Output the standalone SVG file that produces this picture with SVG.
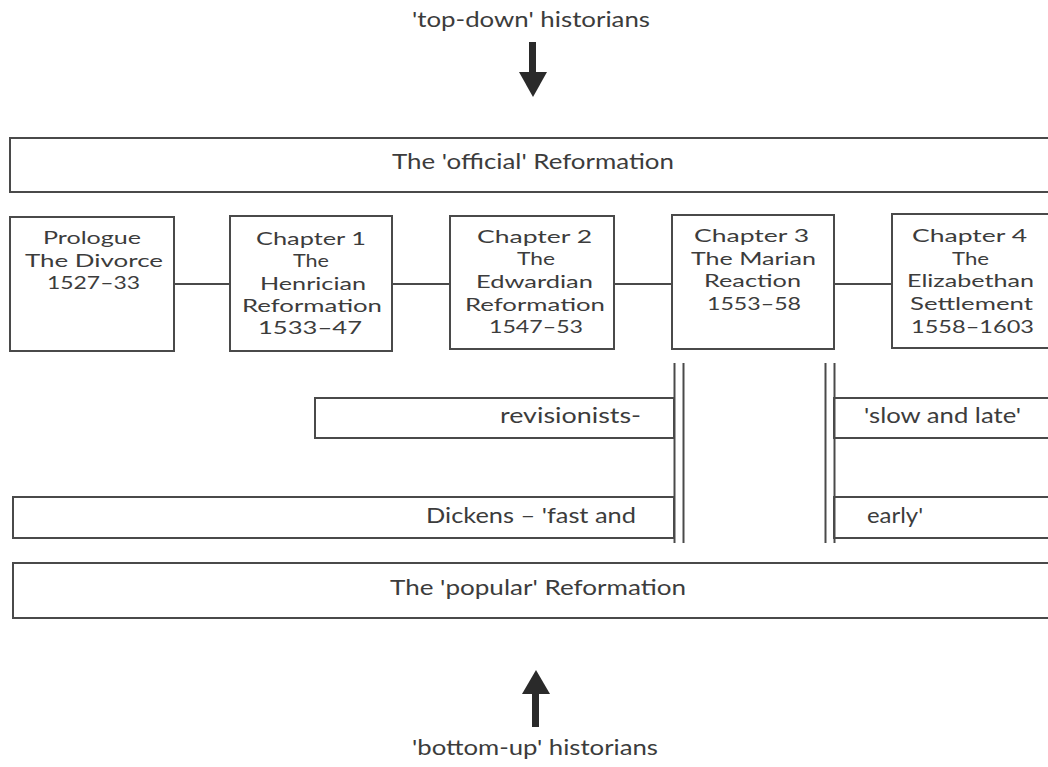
<svg xmlns="http://www.w3.org/2000/svg" width="1048" height="767" viewBox="0 0 1048 767">
<style>
  .box { fill: #ffffff; stroke: #4a4a4a; stroke-width: 2; }
  .line { stroke: #4a4a4a; stroke-width: 2; fill: none; }
  .tl { font-family: Lato, "Liberation Sans", sans-serif; font-size: 21px; fill: #3c3c3c; text-anchor: start; }
  .ch { font-family: Lato, "Liberation Sans", sans-serif; font-size: 18px; fill: #3c3c3c; text-anchor: start; }
  .arrow { fill: #2a2a2a; }
</style>
<rect x="0" y="0" width="1048" height="767" fill="#ffffff"/>

<g id="top-label">
  <text class="tl" x="412" y="27" font-size="20" textLength="238" lengthAdjust="spacingAndGlyphs">'top-down' historians</text>
  <rect class="arrow" x="529" y="42" width="7" height="31"/>
  <polygon class="arrow" points="519,72 547,72 533,97"/>
</g>

<g id="official">
  <rect class="box" x="10" y="138" width="1060" height="54"/>
  <text class="tl" x="392" y="169" textLength="282" lengthAdjust="spacingAndGlyphs">The 'official' Reformation</text>
</g>

<g id="connectors">
  <line class="line" x1="174" y1="284" x2="230" y2="284"/>
  <line class="line" x1="392" y1="284" x2="450" y2="284"/>
  <line class="line" x1="614" y1="284" x2="672" y2="284"/>
  <line class="line" x1="834" y1="284" x2="892" y2="284"/>
</g>

<g id="prologue">
  <rect class="box" x="10" y="217" width="164" height="134"/>
  <text class="ch" x="43" y="244" textLength="98" lengthAdjust="spacingAndGlyphs">Prologue</text>
  <text class="ch" x="25" y="267" textLength="138" lengthAdjust="spacingAndGlyphs">The Divorce</text>
  <text class="ch" x="47" y="289" textLength="93" lengthAdjust="spacingAndGlyphs">1527–33</text>
</g>

<g id="chapter1">
  <rect class="box" x="230" y="216" width="162" height="135"/>
  <text class="ch" x="256" y="245" textLength="110" lengthAdjust="spacingAndGlyphs">Chapter 1</text>
  <text class="ch" x="293" y="267" textLength="36" lengthAdjust="spacingAndGlyphs">The</text>
  <text class="ch" x="260" y="290" textLength="106" lengthAdjust="spacingAndGlyphs">Henrician</text>
  <text class="ch" x="242" y="312" textLength="140" lengthAdjust="spacingAndGlyphs">Reformation</text>
  <text class="ch" x="258" y="334" textLength="104" lengthAdjust="spacingAndGlyphs">1533–47</text>
</g>

<g id="chapter2">
  <rect class="box" x="450" y="216" width="164" height="133"/>
  <text class="ch" x="477" y="243" textLength="115" lengthAdjust="spacingAndGlyphs">Chapter 2</text>
  <text class="ch" x="517" y="265" textLength="38" lengthAdjust="spacingAndGlyphs">The</text>
  <text class="ch" x="476" y="288" textLength="117" lengthAdjust="spacingAndGlyphs">Edwardian</text>
  <text class="ch" x="465" y="311" textLength="140" lengthAdjust="spacingAndGlyphs">Reformation</text>
  <text class="ch" x="489" y="333" textLength="94" lengthAdjust="spacingAndGlyphs">1547–53</text>
</g>

<g id="chapter3">
  <rect class="box" x="672" y="215" width="162" height="134"/>
  <text class="ch" x="694" y="242" textLength="115" lengthAdjust="spacingAndGlyphs">Chapter 3</text>
  <text class="ch" x="691" y="265" textLength="125" lengthAdjust="spacingAndGlyphs">The Marian</text>
  <text class="ch" x="704" y="287" textLength="97" lengthAdjust="spacingAndGlyphs">Reaction</text>
  <text class="ch" x="707" y="310" textLength="94" lengthAdjust="spacingAndGlyphs">1553–58</text>
</g>

<g id="chapter4">
  <rect class="box" x="892" y="214" width="168" height="134"/>
  <text class="ch" x="912" y="242" textLength="115" lengthAdjust="spacingAndGlyphs">Chapter 4</text>
  <text class="ch" x="952" y="265" textLength="37" lengthAdjust="spacingAndGlyphs">The</text>
  <text class="ch" x="907" y="287" textLength="127" lengthAdjust="spacingAndGlyphs">Elizabethan</text>
  <text class="ch" x="910" y="310" textLength="123" lengthAdjust="spacingAndGlyphs">Settlement</text>
  <text class="ch" x="911" y="333" textLength="123" lengthAdjust="spacingAndGlyphs">1558–1603</text>
</g>

<g id="revisionists">
  <rect class="box" x="315" y="398" width="359" height="40"/>
  <text class="tl" x="500" y="423" textLength="141" lengthAdjust="spacingAndGlyphs">revisionists-</text>
</g>

<g id="slow-late">
  <rect class="box" x="834" y="398" width="226" height="40"/>
  <text class="tl" x="864" y="423" textLength="157" lengthAdjust="spacingAndGlyphs">'slow and late'</text>
</g>

<g id="dickens">
  <rect class="box" x="13" y="497" width="661" height="41"/>
  <text class="tl" x="426" y="523" textLength="210" lengthAdjust="spacingAndGlyphs">Dickens – 'fast and</text>
</g>

<g id="early">
  <rect class="box" x="834" y="497" width="226" height="41"/>
  <text class="tl" x="867" y="523" textLength="56" lengthAdjust="spacingAndGlyphs">early'</text>
</g>

<g id="dividers">
  <line class="line" x1="674.5" y1="363" x2="674.5" y2="543"/>
  <line class="line" x1="683.5" y1="363" x2="683.5" y2="543"/>
  <line class="line" x1="825.5" y1="363" x2="825.5" y2="543"/>
  <line class="line" x1="834.5" y1="363" x2="834.5" y2="543"/>
</g>

<g id="popular">
  <rect class="box" x="13" y="563" width="1060" height="55"/>
  <text class="tl" x="390" y="595" textLength="296" lengthAdjust="spacingAndGlyphs">The 'popular' Reformation</text>
</g>

<g id="bottom-label">
  <polygon class="arrow" points="536,670 522,694 550,694"/>
  <rect class="arrow" x="532" y="693" width="7" height="34"/>
  <text class="tl" x="412" y="755" font-size="20" textLength="246" lengthAdjust="spacingAndGlyphs">'bottom-up' historians</text>
</g>
</svg>
